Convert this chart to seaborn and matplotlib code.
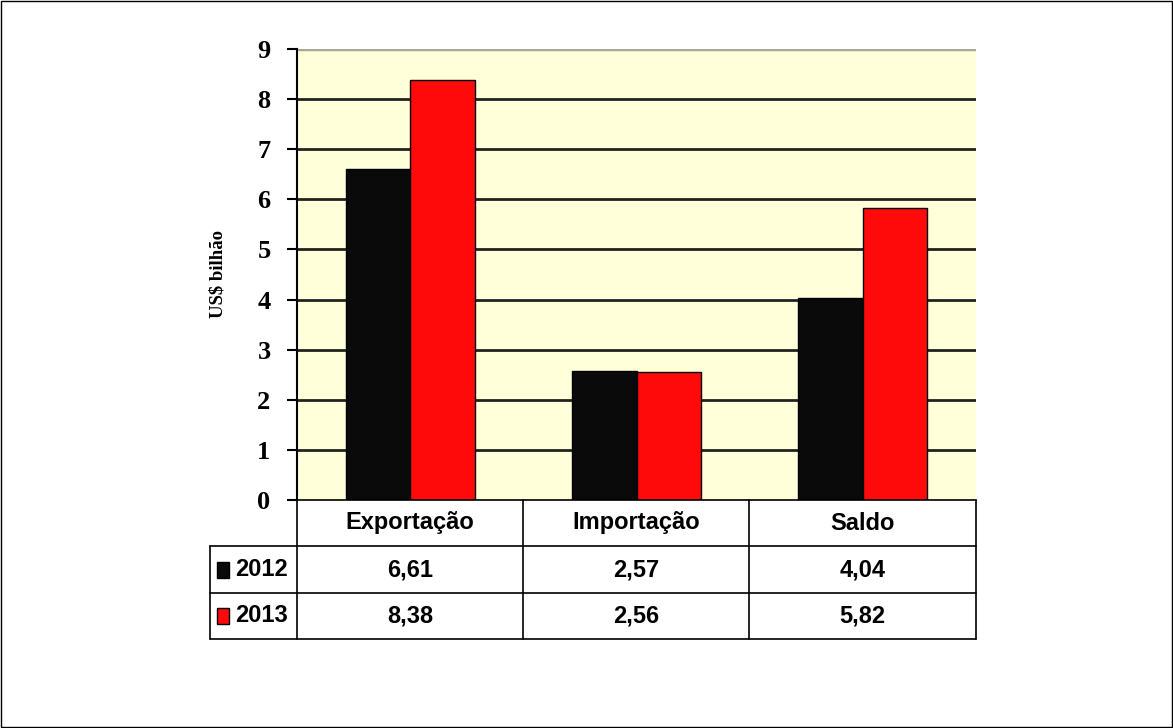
import pandas as pd
import matplotlib.pyplot as plt
import seaborn as sns
from matplotlib.patches import Rectangle
from matplotlib.lines import Line2D

# =========================
# DATA
# =========================

categorias = ["Exportação", "Importação", "Saldo"]
anos = ["2012", "2013"]
valores_2012 = [6.61, 2.57, 4.04]
valores_2013 = [8.38, 2.56, 5.82]
cores = ["#0a0a0a", "#ff0a0a"]
y_ticks = list(range(0, 10))

df = pd.DataFrame({
    "categoria": categorias * 2,
    "ano": [anos[0]] * 3 + [anos[1]] * 3,
    "valor": valores_2012 + valores_2013,
})

# =========================
# FIGURE
# =========================

sns.set_style("white")
W, H = 1173, 728
fig = plt.figure(figsize=(W / 100, H / 100), dpi=100)


def fx(px):
    return px / W


def fy(py):
    return 1 - py / H


left, right, top, bottom = 297, 976, 49, 500
ax = fig.add_axes([fx(left), fy(bottom), fx(right - left), fy(top) - fy(bottom)])
ax.set_facecolor("#ffffd9")

sns.barplot(
    data=df, x="categoria", y="valor", hue="ano",
    palette=cores, width=0.57, edgecolor="black", linewidth=1,
    saturation=1, ax=ax, legend=False,
)

ax.set_ylim(0, 9)
ax.set_xlim(-0.5, 2.5)
ax.set_yticks(y_ticks)
ax.set_yticklabels([str(t) for t in y_ticks], fontsize=19, fontweight="bold",
                   family="Liberation Serif", color="black")
ax.set_xticks([])
ax.set_xlabel("")
ax.set_ylabel("US$ bilhão", fontsize=13.5, fontweight="bold",
              family="Liberation Serif", color="black", labelpad=22)
ax.tick_params(axis="y", length=7, width=1.5, color="black", pad=12, left=True)

for t in y_ticks[1:-1]:
    ax.axhline(t, color="#222222", linewidth=2, zorder=0.5)
ax.axhline(9, color="#a8a898", linewidth=2.5, zorder=0.5)

for side in ["top", "right", "bottom"]:
    ax.spines[side].set_visible(False)
ax.spines["left"].set_color("black")
ax.spines["left"].set_linewidth(1.5)

# =========================
# DATA TABLE
# =========================

col_x = [297, 523, 749, 976]
row_y = [500, 546, 593, 639]
tab_left = 210
lc = "black"
lw = 1.2


def hline(x0, x1, y):
    fig.add_artist(Line2D([fx(x0), fx(x1)], [fy(y), fy(y)], color=lc, linewidth=lw))


def vline(x, y0, y1):
    fig.add_artist(Line2D([fx(x), fx(x)], [fy(y0), fy(y1)], color=lc, linewidth=lw))


hline(col_x[0], col_x[-1], row_y[0])
for y in row_y[1:]:
    hline(tab_left, col_x[-1], y)
for x in col_x:
    vline(x, row_y[0], row_y[-1])
vline(tab_left, row_y[1], row_y[-1])

fonte_tab = "Liberation Sans"

for i, cat in enumerate(categorias):
    cx = (col_x[i] + col_x[i + 1]) / 2
    fig.text(fx(cx), fy((row_y[0] + row_y[1]) / 2), cat, ha="center", va="center",
             fontsize=17, fontweight="bold", family=fonte_tab, color="black")

for r, (ano, vals) in enumerate(zip(anos, [valores_2012, valores_2013])):
    cy = (row_y[r + 1] + row_y[r + 2]) / 2
    fig.add_artist(Rectangle((fx(217), fy(cy + 8)), fx(12), fy(cy - 8) - fy(cy + 8),
                             facecolor=cores[r], edgecolor="black", linewidth=1))
    fig.text(fx(235), fy(cy), ano, ha="left", va="center",
             fontsize=17, fontweight="bold", family=fonte_tab, color="black")
    for i, v in enumerate(vals):
        cx = (col_x[i] + col_x[i + 1]) / 2
        fig.text(fx(cx), fy(cy), f"{v:.2f}".replace(".", ","), ha="center",
                 va="center", fontsize=17, fontweight="bold", family=fonte_tab,
                 color="black")

# figure border
fig.add_artist(Rectangle((0.001, 0.001), 0.998, 0.998, fill=False,
                         edgecolor="black", linewidth=1))

plt.savefig("out.png", dpi=100)
plt.close()
